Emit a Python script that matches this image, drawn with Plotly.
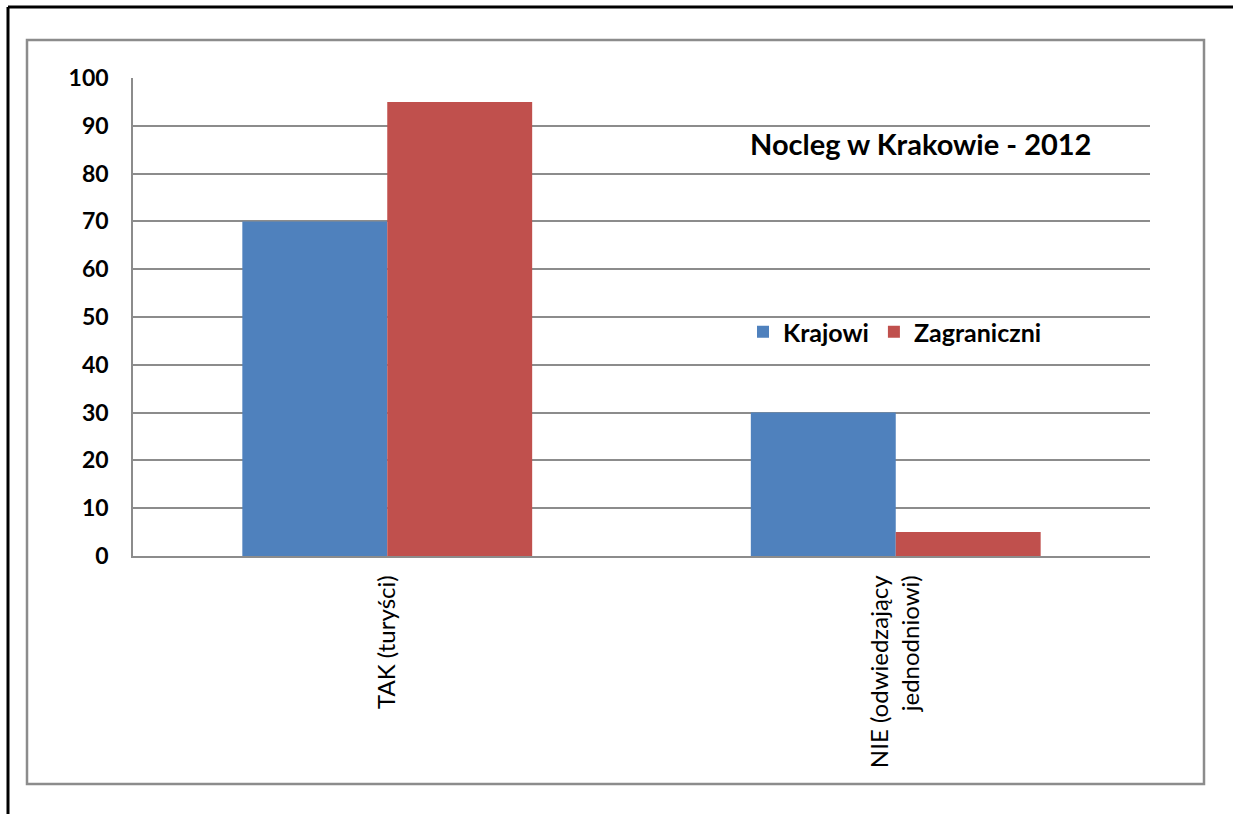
import plotly.graph_objects as go

categories = ["TAK (turyści)", "NIE (odwiedzający<br>jednodniowi)"]
series_names = ["Krajowi", "Zagraniczni"]
krajowi = [70, 30]
zagraniczni = [95, 5]
colors = ["#4F81BD", "#C0504D"]
y_ticks = [0, 10, 20, 30, 40, 50, 60, 70, 80, 90, 100]
title_text = "Nocleg w Krakowie - 2012"

W, H = 1233, 814
L, R, T, B = 133, 1150, 78, 556

def px(x):
    return (x - L) / (R - L)

def py(y):
    return (B - y) / (B - T)

fig = go.Figure()
for name, vals, c in zip(series_names, [krajowi, zagraniczni], colors):
    fig.add_trace(go.Bar(x=categories, y=vals, name=name, marker_color=c,
                         marker_line_width=0))

FONT = "Lato"
fig.update_layout(
    width=W, height=H, autosize=False,
    margin=dict(l=L, r=W - R, t=T, b=H - B, pad=0),
    paper_bgcolor="white", plot_bgcolor="white",
    barmode="group", bargap=0.43, bargroupgap=0,
    font=dict(family=FONT, color="black"),
    showlegend=True,
    legend=dict(orientation="h", x=px(743), y=py(332), xanchor="left", yanchor="middle",
                font=dict(family=FONT, size=25, color="black", weight="bold"),
                bgcolor="rgba(0,0,0,0)", itemsizing="constant", traceorder="normal",
                itemwidth=30),
    annotations=[dict(text="<b>" + title_text + "</b>", x=px(920), y=py(143),
                      xref="paper", yref="paper", xanchor="center", yanchor="middle",
                      showarrow=False,
                      font=dict(family=FONT, size=29, color="black"))],
    shapes=[
        dict(type="line", xref="paper", yref="paper", x0=px(8), x1=px(1240), y0=py(7), y1=py(7),
             line=dict(color="black", width=3)),
        dict(type="line", xref="paper", yref="paper", x0=px(8), x1=px(8), y0=py(7), y1=py(820),
             line=dict(color="black", width=3)),
        dict(type="rect", xref="paper", yref="paper", x0=px(27), x1=px(1204), y0=py(40), y1=py(784),
             line=dict(color="#8C8C8C", width=2.5), fillcolor="rgba(0,0,0,0)", layer="below"),
    ],
)
fig.update_yaxes(range=[0, 100], tickvals=y_ticks, showgrid=True, gridcolor="#8C8C8C", gridwidth=1.5,
                 showline=True, linecolor="#8C8C8C", linewidth=1.5, ticks="", ticklabelstandoff=18,
                 tickfont=dict(family=FONT, size=23, color="black", weight="bold"), zeroline=False)
fig.update_xaxes(showline=True, linecolor="#8C8C8C", linewidth=1.5, tickangle=-90, ticks="",
                 ticklabelstandoff=8,
                 tickfont=dict(family=FONT, size=24, color="black"))

fig.write_html("out.html", post_script="document.body.style.margin='0px';",
               config={"displayModeBar": False})
